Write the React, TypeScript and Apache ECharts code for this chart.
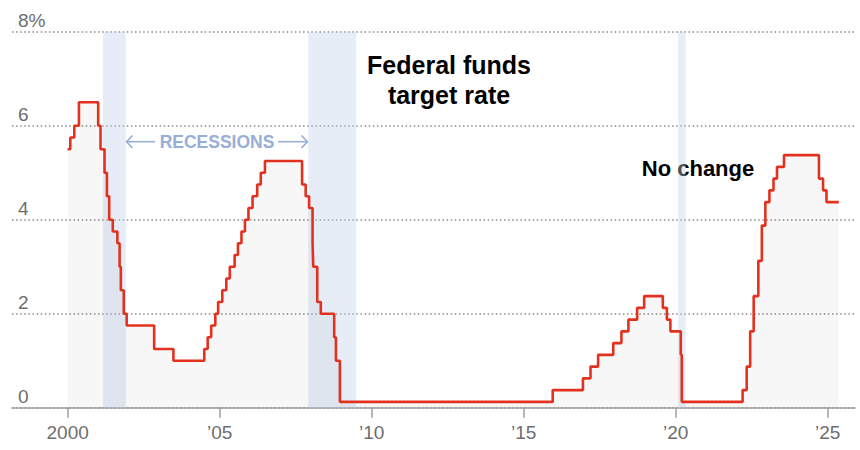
import React, { useEffect, useRef } from "react";
import * as echarts from "echarts";

// Change dates and the new target rate (midpoint of the range after 2008)
const changeDates: string[] = [
  "2000-01-01", "2000-02-02", "2000-03-21", "2000-05-16",
  "2001-01-03", "2001-01-31", "2001-03-20", "2001-04-18", "2001-05-15", "2001-06-27",
  "2001-08-21", "2001-09-17", "2001-10-02", "2001-11-06", "2001-12-11",
  "2002-11-06", "2003-06-25",
  "2004-06-30", "2004-08-10", "2004-09-21", "2004-11-10", "2004-12-14",
  "2005-02-02", "2005-03-22", "2005-05-03", "2005-06-30", "2005-08-09", "2005-09-20",
  "2005-11-01", "2005-12-13",
  "2006-01-31", "2006-03-28", "2006-05-10", "2006-06-29",
  "2007-09-18", "2007-10-31", "2007-12-11",
  "2008-01-22", "2008-01-30", "2008-03-18", "2008-04-30", "2008-10-08", "2008-10-29",
  "2008-12-16",
  "2015-12-16", "2016-12-14",
  "2017-03-15", "2017-06-14", "2017-12-13",
  "2018-03-21", "2018-06-13", "2018-09-26", "2018-12-19",
  "2019-07-31", "2019-09-18", "2019-10-30",
  "2020-03-03", "2020-03-15",
  "2022-03-16", "2022-05-04", "2022-06-15", "2022-07-27", "2022-09-21", "2022-11-02",
  "2022-12-14",
  "2023-02-01", "2023-03-22", "2023-05-03", "2023-07-26",
  "2024-09-18", "2024-11-07", "2024-12-18",
  "2025-05-15",
];

const rates: number[] = [
  5.5, 5.75, 6.0, 6.5,
  6.0, 5.5, 5.0, 4.5, 4.0, 3.75,
  3.5, 3.0, 2.5, 2.0, 1.75,
  1.25, 1.0,
  1.25, 1.5, 1.75, 2.0, 2.25,
  2.5, 2.75, 3.0, 3.25, 3.5, 3.75,
  4.0, 4.25,
  4.5, 4.75, 5.0, 5.25,
  4.75, 4.5, 4.25,
  3.5, 3.0, 2.25, 2.0, 1.5, 1.0,
  0.125,
  0.375, 0.625,
  0.875, 1.125, 1.375,
  1.625, 1.875, 2.125, 2.375,
  2.125, 1.875, 1.625,
  1.125, 0.125,
  0.375, 0.875, 1.625, 2.375, 3.125, 3.875,
  4.375,
  4.625, 4.875, 5.125, 5.375,
  4.875, 4.625, 4.375,
  4.375,
];

// Recessions: start / end dates
const recessionStarts: string[] = ["2001-03-01", "2007-12-01", "2020-02-01"];
const recessionEnds: string[] = ["2001-11-30", "2009-06-30", "2020-04-30"];

const xTickYears: number[] = [2000, 2005, 2010, 2015, 2020, 2025];
const yTicks: number[] = [0, 2, 4, 6, 8];

function toYear(d: string): number {
  const [y, m, day] = d.split("-").map(Number);
  const start = Date.UTC(y, 0, 1);
  const end = Date.UTC(y + 1, 0, 1);
  const t = Date.UTC(y, m - 1, day);
  return y + (t - start) / (end - start);
}

const FONT = "'Liberation Sans', Arial, sans-serif";

export default function App() {
  const ref = useRef<HTMLDivElement>(null);

  useEffect(() => {
    document.body.style.margin = "0";
    if (!ref.current) return;
    const chart = echarts.init(ref.current, undefined, { renderer: "svg" });

    const data = changeDates.map((d, i) => [toYear(d), rates[i]]);
    const recessions = recessionStarts.map((s, i) => [
      { xAxis: toYear(s) },
      { xAxis: toYear(recessionEnds[i]) },
    ]);

    const arrowColor = "#97aed5";

    chart.setOption({
      animation: false,
      grid: { left: 12, right: 5, top: 31.7, bottom: 42.3, containLabel: false },
      xAxis: {
        type: "value",
        min: 1998.17,
        max: 2025.9,
        axisLine: { show: true, lineStyle: { color: "#a0a0a0", width: 1.5 } },
        axisTick: {
          show: true,
          customValues: xTickYears,
          length: 10,
          lineStyle: { color: "#a0a0a0", width: 1.5 },
        },
        axisLabel: {
          customValues: xTickYears,
          margin: 15,
          color: "#6e6e6e",
          fontSize: 19,
          fontFamily: FONT,
          formatter: (v: number) =>
            v === 2000 ? "2000" : "\u2019" + String(v).slice(2),
        },
        splitLine: { show: false },
      },
      yAxis: {
        type: "value",
        min: 0,
        max: 8,
        interval: 2,
        axisLine: { show: false },
        axisTick: { show: false },
        axisLabel: {
          inside: true,
          margin: 6,
          verticalAlign: "bottom",
          padding: [0, 0, 2, 0],
          color: "#6e6e6e",
          fontSize: 19,
          fontFamily: FONT,
          customValues: yTicks,
          formatter: (v: number) => (v === 8 ? "8%" : String(v)),
        },
        splitLine: {
          show: true,
          lineStyle: { color: "#8a8a8a", width: 1.5, type: [1.5, 2.6] },
        },
      },
      series: [
        {
          type: "line",
          data,
          step: "end",
          symbol: "none",
          lineStyle: { color: "#e2321f", width: 2.6 },
          areaStyle: { color: "rgba(0,0,0,0.045)", origin: "start" },
          z: 3,
          markArea: {
            silent: true,
            itemStyle: { color: "rgba(190,208,234,0.38)" },
            data: recessions,
          },
        },
      ],
      graphic: [
        {
          type: "text",
          x: 449,
          y: 65,
          style: {
            text: "Federal funds",
            font: `bold 25px ${FONT}`,
            fill: "#000",
            align: "center",
            verticalAlign: "middle",
          },
        },
        {
          type: "text",
          x: 449,
          y: 94.5,
          style: {
            text: "target rate",
            font: `bold 25px ${FONT}`,
            fill: "#000",
            align: "center",
            verticalAlign: "middle",
          },
        },
        {
          type: "text",
          x: 698,
          y: 168,
          style: {
            text: "No change",
            font: `bold 22px ${FONT}`,
            fill: "#000",
            align: "center",
            verticalAlign: "middle",
          },
        },
        {
          type: "text",
          x: 217,
          y: 141.5,
          style: {
            text: "RECESSIONS",
            font: `bold 17.5px ${FONT}`,
            fill: arrowColor,
            align: "center",
            verticalAlign: "middle",
          },
        },
        {
          type: "line",
          shape: { x1: 126, y1: 141.7, x2: 155, y2: 141.7 },
          style: { stroke: arrowColor, lineWidth: 1.6 },
        },
        {
          type: "polyline",
          shape: { points: [[132.5, 135.5], [126.5, 141.7], [132.5, 147.9]] },
          style: { stroke: arrowColor, lineWidth: 1.6, fill: "none" },
        },
        {
          type: "line",
          shape: { x1: 278, y1: 141.7, x2: 307.5, y2: 141.7 },
          style: { stroke: arrowColor, lineWidth: 1.6 },
        },
        {
          type: "polyline",
          shape: { points: [[301.5, 135.5], [307.5, 141.7], [301.5, 147.9]] },
          style: { stroke: arrowColor, lineWidth: 1.6, fill: "none" },
        },
      ],
    });

    return () => chart.dispose();
  }, []);

  return <div ref={ref} style={{ width: 860, height: 450 }} />;
}
